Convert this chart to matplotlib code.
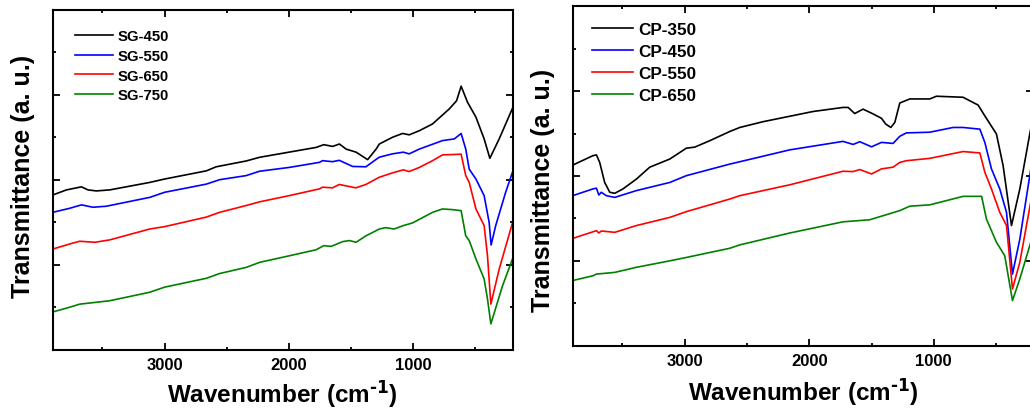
#!/usr/bin/env python3
"""
FTIR spectra of SG (sol-gel) and CP (co-precipitation) samples, two panels.
"""

import matplotlib
matplotlib.use("Agg")
import matplotlib.pyplot as plt
from matplotlib.ticker import MultipleLocator

plt.rcParams['font.family'] = ['Liberation Sans', 'DejaVu Sans']
plt.rcParams['font.weight'] = 'bold'
plt.rcParams['mathtext.default'] = 'regular'

# ---- left panel: SG samples (wavenumber cm-1, transmittance a.u.) ----
sg450_wn = [3900, 3790, 3723, 3669, 3616, 3549, 3442, 3120, 3000, 2665, 2585, 2345, 2235, 2000,
            1781, 1720, 1648, 1594, 1540, 1460, 1367, 1299, 1273, 1166, 1086, 1032, 952, 845,
            711, 652, 615, 564, 496, 430, 384, 309, 202]
sg450_t = [45.5, 47.0, 47.5, 47.9, 47.0, 46.7, 47.0, 49.2, 50.2, 52.6, 53.8, 55.5, 56.6, 58.1,
           59.5, 60.3, 59.8, 60.5, 59.0, 58.1, 55.9, 59.0, 60.5, 62.5, 63.6, 63.2, 64.4, 66.4,
           70.8, 73.2, 77.5, 72.8, 68.4, 62.0, 56.3, 62.0, 71.0]

sg550_wn = [3900, 3763, 3669, 3576, 3469, 3120, 3000, 2665, 2558, 2345, 2235, 2000, 1755, 1730,
            1650, 1595, 1488, 1381, 1275, 1168, 1080, 1033, 952, 765, 670, 615, 578, 550, 496,
            430, 390, 374, 337, 257, 202]
sg550_t = [40.4, 41.6, 42.6, 41.9, 42.2, 44.8, 46.3, 48.7, 50.0, 51.2, 52.5, 53.6, 55.1, 55.6,
           55.3, 55.7, 53.9, 53.8, 56.6, 57.6, 58.1, 57.6, 59.0, 61.5, 62.0, 63.6, 59.0, 53.1, 50.2,
           45.3, 37.5, 30.8, 36.5, 46.3, 52.2]

sg650_wn = [3900, 3763, 3683, 3560, 3442, 3120, 3000, 2665, 2558, 2345, 2235, 2000, 1755, 1730,
            1650, 1595, 1462, 1381, 1275, 1168, 1080, 1033, 952, 845, 765, 615, 578, 550, 496,
            430, 403, 376, 309, 202]
sg650_t = [29.6, 31.1, 31.9, 31.6, 32.3, 35.5, 36.2, 39.0, 40.4, 42.4, 43.5, 45.3, 47.3, 47.8,
           47.6, 48.6, 47.6, 48.6, 50.7, 52.0, 52.9, 52.4, 53.6, 55.6, 57.3, 57.5, 51.2, 49.2, 41.4,
           36.5, 27.6, 13.4, 23.7, 37.3]

sg750_wn = [3900, 3763, 3683, 3442, 3120, 3000, 2665, 2558, 2345, 2235, 2000, 1781, 1720, 1660,
            1567, 1514, 1460, 1380, 1273, 1222, 1155, 1080, 1005, 845, 765, 685, 615, 578, 550,
            496, 430, 403, 376, 282, 202]
sg750_t = [11.1, 12.5, 13.4, 14.4, 16.9, 18.4, 21.0, 22.4, 24.2, 25.7, 27.6, 29.4, 30.6, 30.4,
           31.8, 32.1, 31.6, 33.5, 35.5, 35.9, 35.5, 36.5, 37.3, 40.4, 41.4, 41.2, 40.9, 33.5, 32.1,
           26.7, 20.8, 14.9, 7.6, 18.8, 26.7]

# ---- right panel: CP samples ----
cp350_wn = [3900, 3737, 3709, 3683, 3643, 3602, 3562, 3496, 3388, 3281, 3120, 2987, 2920, 2799,
            2639, 2558, 2371, 2157, 1970, 1729, 1688, 1635, 1568, 1488, 1420, 1386, 1345, 1313,
            1273, 1193, 1032, 979, 765, 644, 590, 497, 443, 376, 309, 229, 200]
cp350_t = [53.2, 56.0, 56.2, 54.0, 48.1, 45.2, 44.9, 46.2, 49.1, 52.6, 55.0, 58.2, 58.5, 60.4,
           63.1, 64.3, 66.0, 67.6, 69.0, 70.2, 70.2, 68.4, 69.7, 68.3, 67.0, 65.3, 64.3, 65.8,
           71.5, 72.7, 72.7, 73.5, 73.2, 70.9, 67.7, 62.4, 53.0, 35.4, 46.2, 62.4, 68.0]

cp450_wn = [3900, 3737, 3709, 3690, 3670, 3630, 3562, 3388, 3120, 2987, 2639, 2558, 2157, 1729,
            1648, 1594, 1500, 1420, 1327, 1273, 1220, 1032, 845, 765, 630, 590, 537, 470, 416,
            368, 309, 229, 200]
cp450_t = [44.2, 46.2, 46.4, 44.4, 45.2, 44.2, 43.7, 45.7, 48.1, 50.1, 53.5, 54.2, 57.7, 60.2,
           59.3, 60.1, 58.6, 59.9, 59.6, 61.7, 62.7, 62.9, 64.3, 64.3, 63.8, 59.9, 52.1, 46.2, 39.3,
           21.1, 31.4, 50.1, 57.0]

cp550_wn = [3900, 3709, 3690, 3670, 3562, 3388, 3120, 2987, 2639, 2558, 2157, 1729, 1648, 1594,
            1500, 1420, 1327, 1273, 1220, 1032, 765, 630, 590, 537, 470, 416, 368, 309, 229, 200]
cp550_t = [31.6, 33.9, 33.2, 33.8, 33.4, 35.4, 37.8, 39.5, 43.2, 44.2, 47.4, 51.4, 51.3, 51.9,
           50.6, 52.1, 52.6, 54.0, 54.5, 55.2, 57.2, 56.8, 51.1, 46.2, 39.3, 35.4, 16.7, 24.6,
           40.8, 46.5]

cp650_wn = [3900, 3737, 3709, 3562, 3388, 3120, 2987, 2639, 2558, 2157, 1729, 1515, 1273, 1193,
            1032, 765, 616, 577, 497, 430, 368, 309, 229, 200]
cp650_t = [19.2, 20.6, 21.1, 21.6, 23.1, 25.0, 26.0, 28.7, 29.7, 33.2, 36.5, 37.1, 39.8, 41.1,
           41.5, 44.0, 44.0, 37.3, 30.5, 26.5, 13.3, 19.7, 29.5, 33.0]

sg_labels = ['SG-450', 'SG-550', 'SG-650', 'SG-750']
cp_labels = ['CP-350', 'CP-450', 'CP-550', 'CP-650']
colors = ['black', '#0000FF', '#FF0000', '#008000']


def style_axis(ax):
    ax.set_xlim(3900, 200)
    ax.set_ylim(0, 100)
    ax.xaxis.set_major_locator(MultipleLocator(1000))
    ax.xaxis.set_minor_locator(MultipleLocator(500))
    ax.yaxis.set_major_locator(MultipleLocator(25))
    ax.yaxis.set_minor_locator(MultipleLocator(12.5))
    ax.tick_params(which='both', direction='in', top=True, right=True, width=1.3)
    ax.tick_params(which='major', length=5, labelsize=12, pad=5)
    ax.tick_params(which='minor', length=2.5)
    ax.set_yticklabels([])
    for sp in ax.spines.values():
        sp.set_linewidth(1.5)
    ax.set_xlabel(r'Wavenumber (cm$^{\text{-1}}$)', fontsize=17.5, fontweight='bold')
    ax.set_ylabel('Transmittance (a. u.)', fontsize=18, fontweight='bold')
    for lab in ax.get_xticklabels():
        lab.set_fontweight('bold')


fig = plt.figure(figsize=(10.3, 4.1), dpi=100)
ax1 = fig.add_axes([0.0512, 0.1446, 0.4466, 0.8293])
ax2 = fig.add_axes([0.5560, 0.1544, 0.4473, 0.8278])

sg_data = [(sg450_wn, sg450_t), (sg550_wn, sg550_t), (sg650_wn, sg650_t), (sg750_wn, sg750_t)]
cp_data = [(cp350_wn, cp350_t), (cp450_wn, cp450_t), (cp550_wn, cp550_t), (cp650_wn, cp650_t)]

for (wn, t), lab, c in zip(sg_data, sg_labels, colors):
    ax1.plot(wn, t, color=c, lw=1.2, label=lab)
for (wn, t), lab, c in zip(cp_data, cp_labels, colors):
    ax2.plot(wn, t, color=c, lw=1.2, label=lab)

style_axis(ax1)
style_axis(ax2)

ax1.yaxis.set_label_coords(-0.0385, 0.512)
ax2.yaxis.set_label_coords(-0.0385, 0.46)
ax1.xaxis.set_label_coords(0.5, -0.083)
ax2.xaxis.set_label_coords(0.5, -0.089)

ax1.legend(loc='upper left', bbox_to_anchor=(0.048, 0.943), frameon=False,
           prop={'size': 10.7, 'weight': 'bold'}, handlelength=2.6, handletextpad=0.3,
           labelspacing=0.385, borderpad=0, borderaxespad=0)
ax2.legend(loc='upper left', bbox_to_anchor=(0.043, 0.954), frameon=False,
           prop={'size': 12.3, 'weight': 'bold'}, handlelength=2.4, handletextpad=0.25,
           labelspacing=0.42, borderpad=0, borderaxespad=0)

fig.savefig('out.png', dpi=100)
